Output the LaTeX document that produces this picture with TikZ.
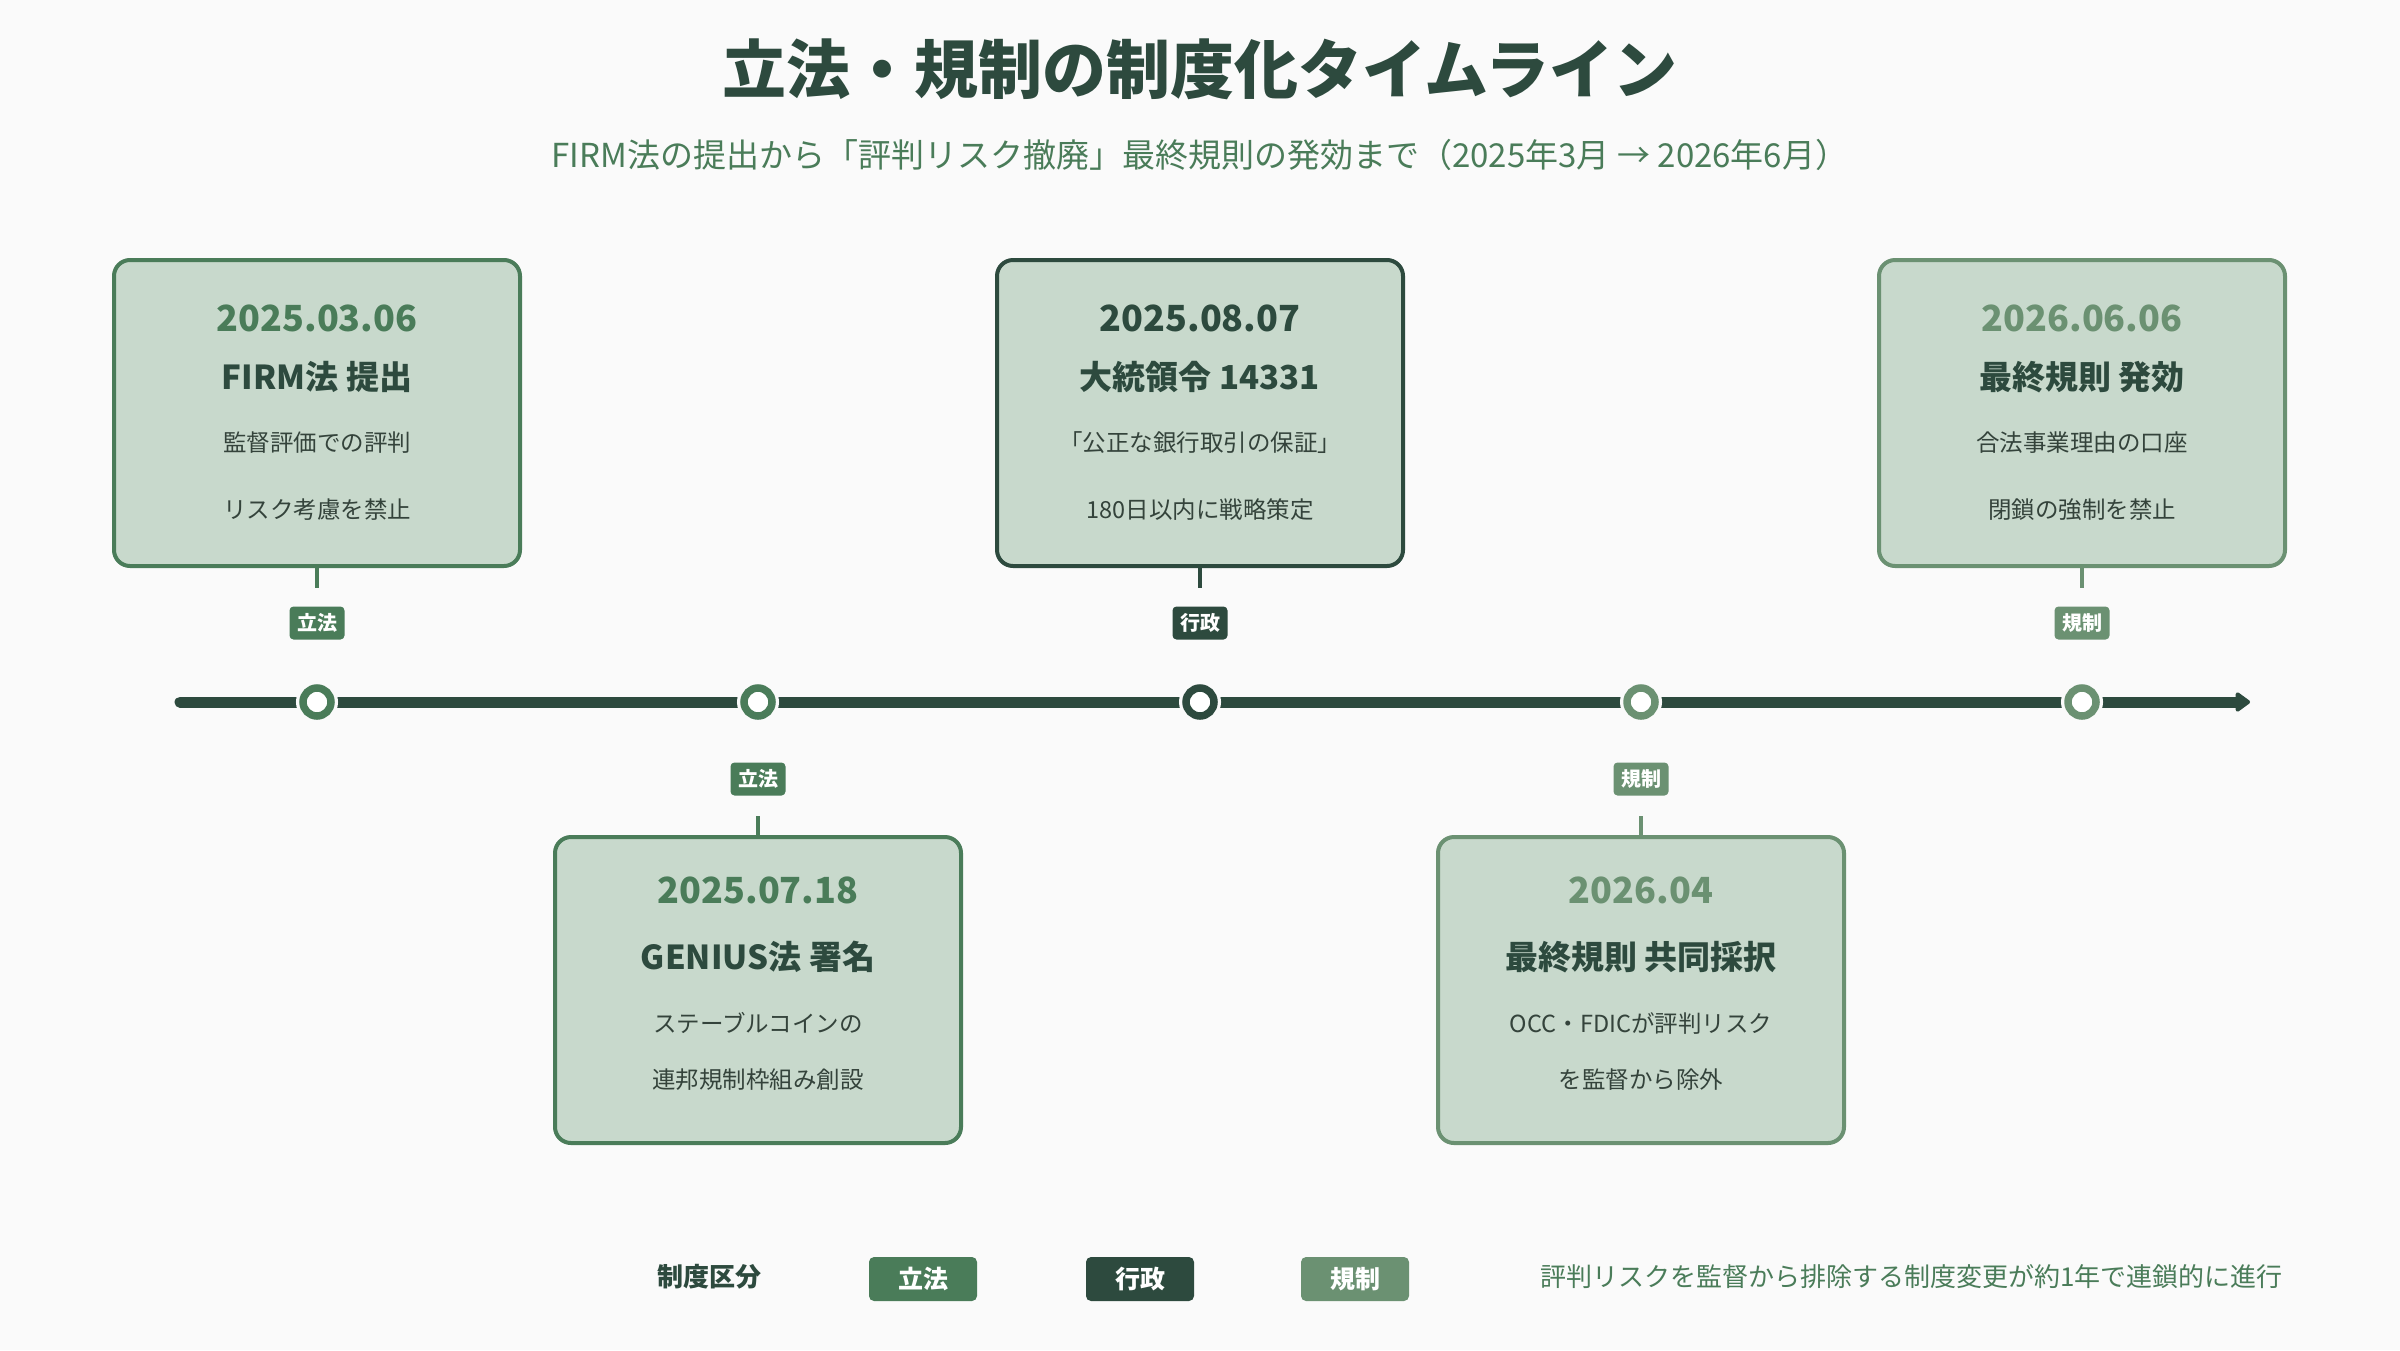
\documentclass[tikz,border=0pt]{standalone}
\usepackage{fontspec}
\setmainfont{Noto Sans CJK JP}
\usepackage{tikz}
\usetikzlibrary{arrows.meta,positioning}
\definecolor{tlBg}{HTML}{FAFAFA}
\definecolor{tlLaw}{HTML}{4A7C59}
\definecolor{tlExec}{HTML}{2D4A3E}
\definecolor{tlReg}{HTML}{6B9172}
\definecolor{tlFill}{HTML}{C8D9CC}
\definecolor{tlInk}{HTML}{2D4A3E}
\definecolor{tlGrey}{HTML}{34433B}
\tikzset{
  evbox/.style  ={rectangle, rounded corners=16pt, draw=#1, fill=tlFill, line width=4pt,
                  minimum width=406pt, minimum height=306pt, inner sep=0pt},
  evdate/.style ={text=#1, font=\fontsize{36}{40}\selectfont\bfseries, inner sep=0pt},
  evtitle/.style={text=tlInk, font=\fontsize{33}{38}\selectfont\bfseries, inner sep=0pt},
  evtext/.style ={text=tlGrey, font=\fontsize{23.5}{26}\selectfont, inner sep=0pt},
  evtag/.style  ={rectangle, rounded corners=4pt, fill=#1, text=white, inner sep=0pt,
                  minimum width=55pt, minimum height=33pt, font=\fontsize{20}{22}\selectfont\bfseries},
  evstub/.style ={draw=#1, line width=4pt},
  evdot/.style  ={circle, fill=white, draw=#1, line width=7.5pt, minimum size=28pt, inner sep=0pt,
                  preaction={draw=tlBg, line width=14pt}},
  tlaxis/.style ={tlExec, line width=11pt, line cap=round,
                  -{Triangle[length=16pt, width=22pt, round]}},
  lgkey/.style  ={rectangle, rounded corners=5pt, fill=#1, text=white, inner sep=0pt,
                  minimum width=108pt, minimum height=44pt, font=\fontsize{25}{28}\selectfont\bfseries},
}
\begin{document}
\begin{tikzpicture}[x=1pt, y=-1pt]
  \useasboundingbox[fill=tlBg] (0,0) rectangle (2400,1350);
  % title
  \node[text=tlInk, font=\fontsize{64}{72}\selectfont\bfseries] (title) at (1200,69) {立法・規制の制度化タイムライン};
  \node[text=tlLaw, font=\fontsize{33}{37}\selectfont] (subtitle) at (1200,155)
    {FIRM法の提出から「評判リスク撤廃」最終規則の発効まで（2025年3月 → 2026年6月）};
  % axis
  \coordinate (axL) at (180,702);
  \coordinate (axR) at (2250,702);
  \draw[tlaxis] (axL) -- (axR);
  % event 1
  \node[evbox=tlLaw] (ev1) at (317,413) {};
  \node[evdate=tlLaw] (d1) at (317,318) {2025.03.06};
  \node[evtitle] (t1) at (317,377) {FIRM法 提出};
  \node[evtext] (a1) at (317,443) {監督評価での評判};
  \node[evtext] (b1) at (317,510) {リスク考慮を禁止};
  \coordinate (s1) at (317,588);
  \draw[evstub=tlLaw] (ev1.south) -- (s1);
  \node[evtag=tlLaw] (g1) at (317,623) {立法};
  \node[evdot=tlLaw] (p1) at (317,702) {};
  % event 2
  \node[evbox=tlLaw] (ev2) at (758,990) {};
  \node[evdate=tlLaw] (d2) at (758,890) {2025.07.18};
  \node[evtitle] (t2) at (758,957) {GENIUS法 署名};
  \node[evtext] (a2) at (758,1023) {ステーブルコインの};
  \node[evtext] (b2) at (758,1080) {連邦規制枠組み創設};
  \coordinate (s2) at (758,816);
  \draw[evstub=tlLaw] (ev2.north) -- (s2);
  \node[evtag=tlLaw] (g2) at (758,779) {立法};
  \node[evdot=tlLaw] (p2) at (758,702) {};
  % event 3
  \node[evbox=tlExec] (ev3) at (1200,413) {};
  \node[evdate=tlExec] (d3) at (1200,318) {2025.08.07};
  \node[evtitle] (t3) at (1200,377) {大統領令 14331};
  \node[evtext] (a3) at (1200,443) {「公正な銀行取引の保証」};
  \node[evtext] (b3) at (1200,510) {180日以内に戦略策定};
  \coordinate (s3) at (1200,588);
  \draw[evstub=tlExec] (ev3.south) -- (s3);
  \node[evtag=tlExec] (g3) at (1200,623) {行政};
  \node[evdot=tlExec] (p3) at (1200,702) {};
  % event 4
  \node[evbox=tlReg] (ev4) at (1641,990) {};
  \node[evdate=tlReg] (d4) at (1641,890) {2026.04};
  \node[evtitle] (t4) at (1641,957) {最終規則 共同採択};
  \node[evtext] (a4) at (1641,1023) {OCC・FDICが評判リスク};
  \node[evtext] (b4) at (1641,1080) {を監督から除外};
  \coordinate (s4) at (1641,816);
  \draw[evstub=tlReg] (ev4.north) -- (s4);
  \node[evtag=tlReg] (g4) at (1641,779) {規制};
  \node[evdot=tlReg] (p4) at (1641,702) {};
  % event 5
  \node[evbox=tlReg] (ev5) at (2082,413) {};
  \node[evdate=tlReg] (d5) at (2082,318) {2026.06.06};
  \node[evtitle] (t5) at (2082,377) {最終規則 発効};
  \node[evtext] (a5) at (2082,443) {合法事業理由の口座};
  \node[evtext] (b5) at (2082,510) {閉鎖の強制を禁止};
  \coordinate (s5) at (2082,588);
  \draw[evstub=tlReg] (ev5.south) -- (s5);
  \node[evtag=tlReg] (g5) at (2082,623) {規制};
  \node[evdot=tlReg] (p5) at (2082,702) {};
  % legend
  \node[text=tlInk, font=\fontsize{26}{30}\selectfont\bfseries] (lgname) at (709,1277) {制度区分};
  \node[lgkey=tlLaw]  (lgLaw)  at (923,1279)  {立法};
  \node[lgkey=tlExec] (lgExec) at (1140,1279) {行政};
  \node[lgkey=tlReg]  (lgReg)  at (1355,1279) {規制};
  \node[anchor=east, text=tlLaw, font=\fontsize{26}{30}\selectfont] (lgnote) at (2286,1277)
    {評判リスクを監督から排除する制度変更が約1年で連鎖的に進行};
\end{tikzpicture}
\end{document}
